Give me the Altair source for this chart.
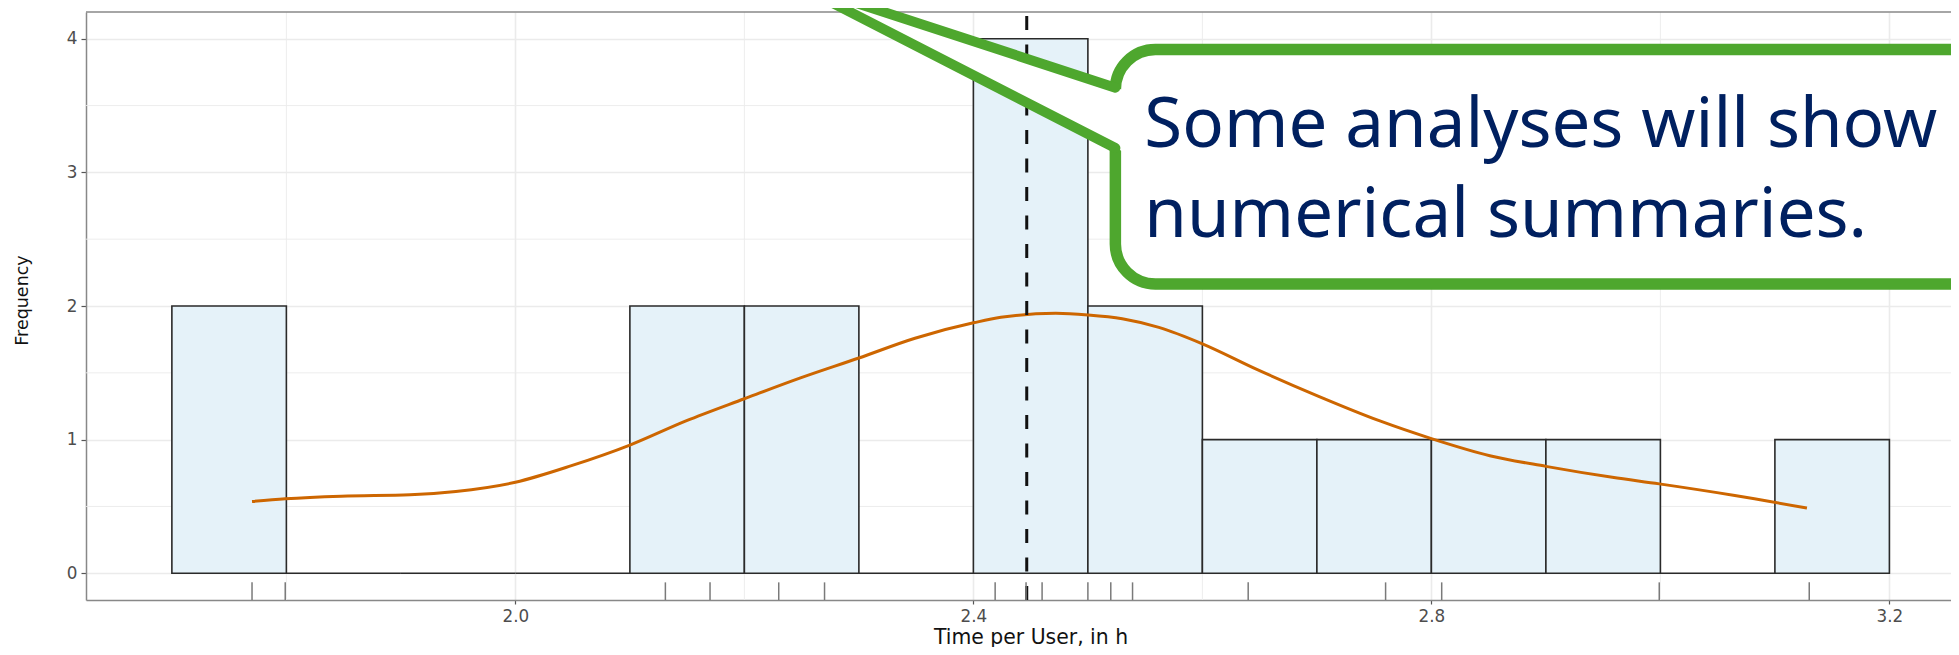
import altair as alt
import pandas as pd

# ---------------- data ----------------
bin_start = [1.7, 1.8, 1.9, 2.0, 2.1, 2.2, 2.3, 2.4, 2.5, 2.6, 2.7, 2.8, 2.9, 3.0, 3.1]
bin_end = [1.8, 1.9, 2.0, 2.1, 2.2, 2.3, 2.4, 2.5, 2.6, 2.7, 2.8, 2.9, 3.0, 3.1, 3.2]
counts = [2, 0, 0, 0, 2, 2, 0, 4, 2, 1, 1, 1, 1, 0, 1]

times = [1.770, 1.799, 2.131, 2.170, 2.230, 2.270, 2.419, 2.446, 2.460,
         2.500, 2.520, 2.539, 2.640, 2.760, 2.809, 2.999, 3.130]
mean_time = [2.4466]

curve_x = [1.770, 1.799, 1.848, 1.908, 1.948, 2.000, 2.049, 2.100, 2.149, 2.200,
           2.249, 2.300, 2.349, 2.401, 2.424, 2.472, 2.500, 2.530, 2.562, 2.600,
           2.648, 2.701, 2.755, 2.800, 2.851, 2.900, 2.958, 2.999, 3.065, 3.128]
curve_y = [0.537, 0.557, 0.577, 0.587, 0.612, 0.681, 0.805, 0.959, 1.140, 1.306,
           1.462, 1.611, 1.759, 1.876, 1.915, 1.945, 1.933, 1.905, 1.840, 1.717,
           1.524, 1.326, 1.140, 1.008, 0.880, 0.800, 0.718, 0.669, 0.582, 0.488]

x_major = [2.0, 2.4, 2.8, 3.2]
x_minor = [1.8, 2.2, 2.6, 3.0]
y_major = [0, 1, 2, 3, 4]
y_minor = [0.5, 1.5, 2.5, 3.5]

# callout (annotation placed in data units)
callout_text = ["Some analyses will show", "numerical summaries."]
callout_text_x = [2.5493, 2.5493]
callout_text_y = [3.192, 2.519]
box_x = [2.524, 3.45]
box_y = [2.165, 3.919]
tail_x = [2.2407, 2.536]
tail_top = [4.427, 3.602]
tail_bottom = [4.427, 3.132]
tail_line_x = [2.2407, 2.2407]
tail_line_x2 = [2.524, 2.524]
tail_line_y = [4.427, 4.427]
tail_line_y2 = [3.634, 3.182]

X_MIN, X_MAX = 1.625, 3.2538
Y_MIN, Y_MAX = -0.2, 4.2
RUG_TOP = -0.068

# ---------------- frames ----------------
bars_df = pd.DataFrame({"start": bin_start, "end": bin_end, "count": counts,
                        "base": [0] * len(counts)})
rug_df = pd.DataFrame({"t": times})
curve_df = pd.DataFrame({"x": curve_x, "y": curve_y})
mean_df = pd.DataFrame({"m": mean_time})
xminor_df = pd.DataFrame({"v": x_minor})
yminor_df = pd.DataFrame({"v": y_minor})
top_df = pd.DataFrame({"v": [Y_MAX]})
box_df = pd.DataFrame({"x": [box_x[0]], "x2": [box_x[1]], "y": [box_y[0]], "y2": [box_y[1]]})
tail_df = pd.DataFrame({"x": tail_x, "top": tail_top, "bottom": tail_bottom})
tail_lines_df = pd.DataFrame({"x": tail_line_x, "x2": tail_line_x2,
                              "y": tail_line_y, "y2": tail_line_y2})
text_df = pd.DataFrame({"x": callout_text_x, "y": callout_text_y, "label": callout_text})

xs = alt.Scale(domain=[X_MIN, X_MAX], nice=False, zero=False)
ys = alt.Scale(domain=[Y_MIN, Y_MAX], nice=False, zero=False)

FONT = "DejaVu Sans"
GRID = "#ebebeb"
GREEN = "#4ea72e"
BORDER = "#888888"

x_axis = alt.Axis(values=x_major, format=".1f", title="Time per User, in h",
                  labelFont=FONT, labelFontSize=16.8, labelColor="#4d4d4d",
                  labelPadding=4, tickSize=4, tickColor="#555555", tickWidth=1.2,
                  domain=True, domainColor=BORDER, domainWidth=1.5,
                  grid=True, gridColor=GRID, gridWidth=1.6,
                  titleFont=FONT, titleFontSize=20.4, titleFontWeight="normal",
                  titleColor="#111111", titleX=944.5, titleY=43, titleAlign="center",
                  titleBaseline="alphabetic")
y_axis = alt.Axis(values=y_major, format="d", title="Frequency",
                  labelFont=FONT, labelFontSize=16.8, labelColor="#4d4d4d",
                  labelPadding=4, tickSize=5, tickColor="#555555", tickWidth=1.2,
                  domain=True, domainColor=BORDER, domainWidth=1.5,
                  grid=True, gridColor=GRID, gridWidth=1.6,
                  titleFont=FONT, titleFontSize=17.5, titleFontWeight="normal",
                  titleColor="#111111", titleAngle=270, titleX=-58.5, titleY=288,
                  titleBaseline="alphabetic", titleAlign="center")


def X(field, **kw):
    return alt.X(field, scale=xs, axis=x_axis, **kw)


def Y(field, **kw):
    return alt.Y(field, scale=ys, axis=y_axis, **kw)


minor_x = alt.Chart(xminor_df).mark_rule(color=GRID, strokeWidth=0.9).encode(x=X("v:Q"))
minor_y = alt.Chart(yminor_df).mark_rule(color=GRID, strokeWidth=0.9).encode(y=Y("v:Q"))
top_border = alt.Chart(top_df).mark_rule(color=BORDER, strokeWidth=1.5).encode(y=Y("v:Q"))

bars = alt.Chart(bars_df).mark_rect(fill="#e5f2f9", stroke="#2a2a2a", strokeWidth=1.6).encode(
    x=X("start:Q"), x2="end:Q", y=Y("count:Q"), y2="base:Q",
)

curve = alt.Chart(curve_df).mark_line(color="#cd6600", strokeWidth=3, interpolate="monotone").encode(
    x=X("x:Q"), y=Y("y:Q"),
)

mean_line = alt.Chart(mean_df).mark_rule(color="#111111", strokeWidth=3, strokeDash=[14, 14.5]).encode(
    x=X("m:Q"),
    y=alt.Y(datum=Y_MIN, scale=ys, axis=y_axis),
    y2=alt.Y2(datum=Y_MAX),
)

rug = alt.Chart(rug_df).mark_rule(color="#7a7a7a", strokeWidth=1.5).encode(
    x=X("t:Q"),
    y=alt.Y(datum=Y_MIN, scale=ys, axis=y_axis),
    y2=alt.Y2(datum=RUG_TOP),
)

box = alt.Chart(box_df).mark_rect(fill="white", stroke=GREEN, strokeWidth=11.5,
                                  cornerRadius=40, clip=True).encode(
    x=X("x:Q"), x2="x2:Q", y=Y("y:Q"), y2="y2:Q",
)

tail = alt.Chart(tail_df).mark_area(fill="white", opacity=1, interpolate="linear").encode(
    x=X("x:Q"), y=Y("top:Q"), y2="bottom:Q",
)

tail_lines = alt.Chart(tail_lines_df).mark_rule(color=GREEN, strokeWidth=10, strokeCap="round").encode(
    x=X("x:Q"), x2="x2:Q", y=Y("y:Q"), y2="y2:Q",
)

text = alt.Chart(text_df).mark_text(font="Noto Sans", fontSize=69, color="#002060",
                                    align="left", baseline="alphabetic").encode(
    x=X("x:Q"), y=Y("y:Q"), text="label:N",
)

chart = alt.layer(minor_x, minor_y, bars, curve, mean_line, rug, top_border,
                  box, tail, tail_lines, text).properties(
    width=1865, height=588,
    autosize=alt.AutoSizeParams(type="none"),
    padding={"left": 78, "top": 4, "right": 0, "bottom": 47},
    background="white",
).configure_view(stroke=None)

chart.save("out.html", embed_options={"renderer": "svg", "actions": False})
